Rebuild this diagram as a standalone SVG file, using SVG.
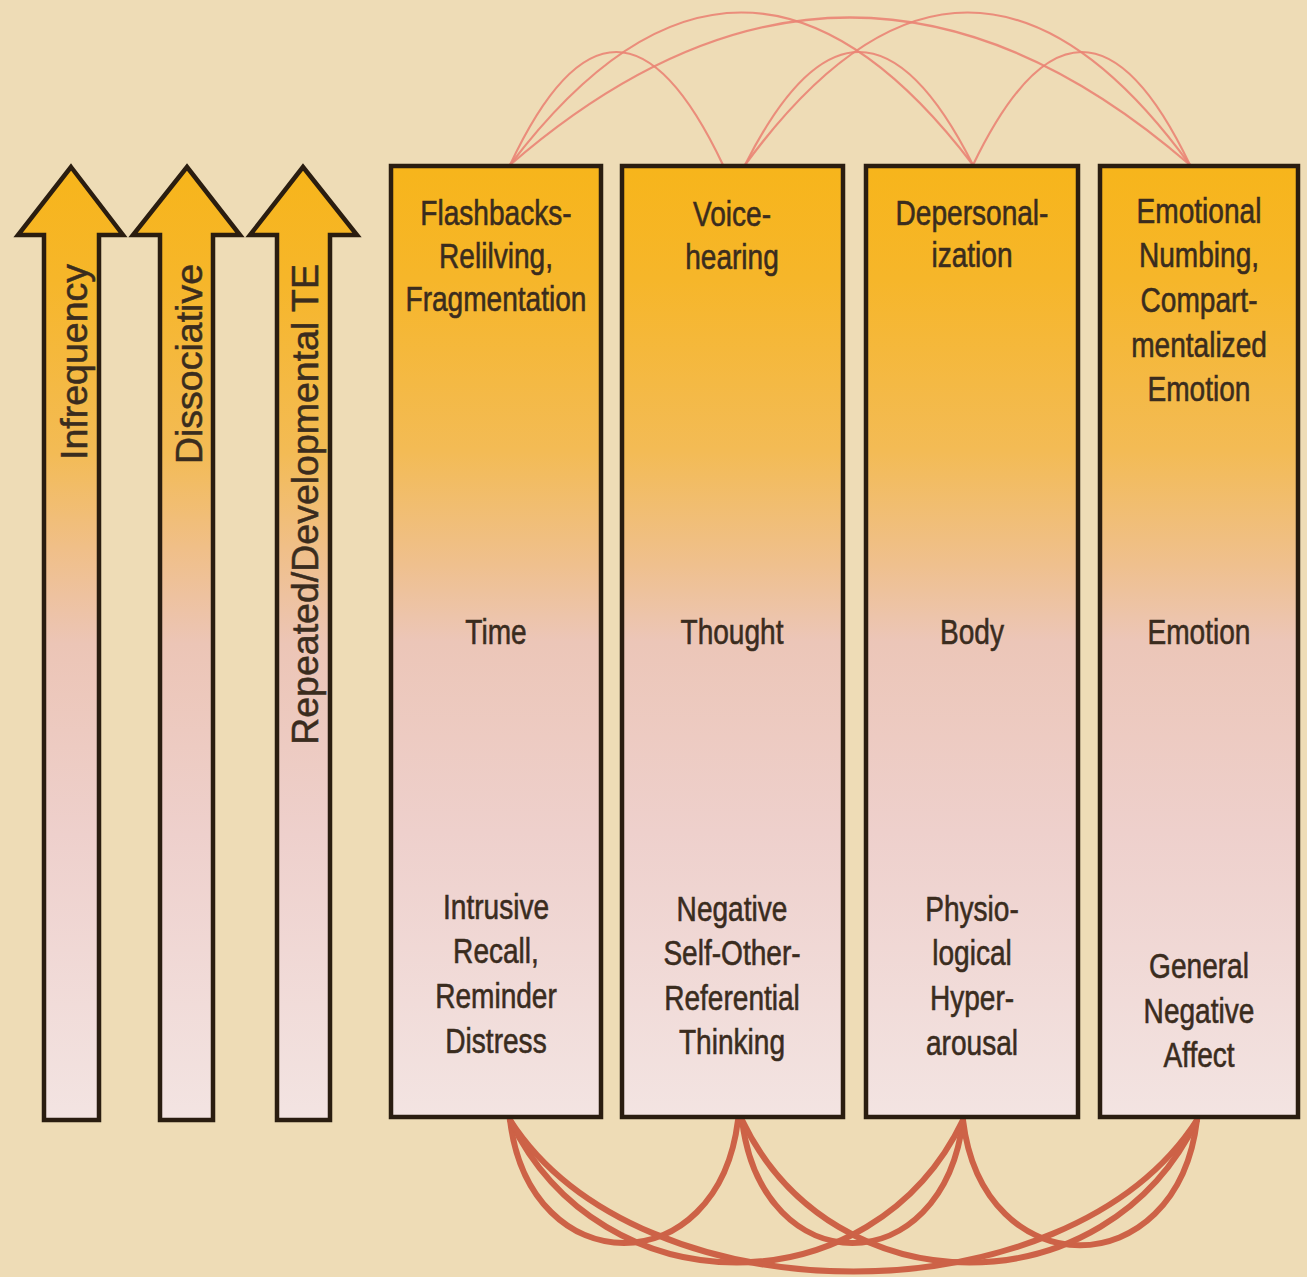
<svg xmlns="http://www.w3.org/2000/svg" width="1307" height="1277" viewBox="0 0 1307 1277">
<defs>
<linearGradient id="gBox" gradientUnits="userSpaceOnUse" x1="0" y1="165" x2="0" y2="1118">
<stop offset="0" stop-color="#f7b51b"/>
<stop offset="0.12" stop-color="#f6b62a"/>
<stop offset="0.3" stop-color="#f3bb55"/>
<stop offset="0.42" stop-color="#efc08e"/>
<stop offset="0.5" stop-color="#ecc6b8"/>
<stop offset="0.7" stop-color="#eed0cc"/>
<stop offset="1" stop-color="#f3e4e2"/>
</linearGradient>
<linearGradient id="gArrow" gradientUnits="userSpaceOnUse" x1="0" y1="167" x2="0" y2="1120">
<stop offset="0" stop-color="#f7b51b"/>
<stop offset="0.12" stop-color="#f6b62a"/>
<stop offset="0.3" stop-color="#f3bb55"/>
<stop offset="0.4" stop-color="#f0bf88"/>
<stop offset="0.5" stop-color="#ecc5b6"/>
<stop offset="0.7" stop-color="#eed0cc"/>
<stop offset="1" stop-color="#f3e4e2"/>
</linearGradient>
</defs>
<style>
.box{fill:url(#gBox);stroke:#2a1d10;stroke-width:4.5}
.arr{fill:url(#gArrow);stroke:#2a1d10;stroke-width:4.5;stroke-linejoin:miter}
.t{font-family:"Liberation Sans",Arial,sans-serif;font-size:36px;fill:#3a2c1e;stroke:#3a2c1e;stroke-width:0.6;text-anchor:middle}
.at{font-family:"Liberation Sans",Arial,sans-serif;font-size:37.5px;fill:#3a2c1e;stroke:#3a2c1e;stroke-width:0.5;text-anchor:end}
.top{fill:none;stroke:#ea8474;stroke-width:2.2;opacity:0.9}
.bot{fill:none;stroke:#cd6247;stroke-width:6;stroke-linecap:round}
</style>
<rect x="0" y="0" width="1307" height="1277" fill="#eedcb6"/>

<g id="connectors">
<path class="top" d="M510,165 Q616,-61 723,165"/>
<path class="top" d="M745,165 Q859,-61 973,165"/>
<path class="top" d="M973,165 Q1082,-61 1190,165"/>
<path class="top" d="M510,165 Q741,-140 973,165"/>
<path class="top" d="M745,165 Q968,-140 1190,165"/>
<path class="top" d="M510,165 Q850,-130 1190,165"/>
<path class="bot" d="M510,1120 C530,1284 718,1284 738,1120"/>
<path class="bot" d="M742,1120 C762,1284 943,1284 963,1120"/>
<path class="bot" d="M963,1120 C983,1287 1177,1287 1197,1120"/>
<path class="bot" d="M510,1120 C601,1310 872,1310 963,1120"/>
<path class="bot" d="M742,1120 C833,1310 1106,1310 1197,1120"/>
<path class="bot" d="M510,1120 C640,1322 1067,1322 1197,1120"/>
</g>

<g id="arrow-infrequency">
<polygon class="arr" points="71,167 123,235 99,235 99,1120 44,1120 44,235 18,235"/>
<text class="at" transform="rotate(-90 87 264)" x="87" y="264">Infrequency</text>
</g>
<g id="arrow-dissociative">
<polygon class="arr" points="187,167 240,235 213,235 213,1120 160,1120 160,235 133,235"/>
<text class="at" transform="rotate(-90 202 264)" x="202" y="264">Dissociative</text>
</g>
<g id="arrow-repeated">
<polygon class="arr" points="303,167 357,235 330,235 330,1120 277,1120 277,235 250,235"/>
<text class="at" transform="rotate(-90 318 264)" x="318" y="264">Repeated/Developmental TE</text>
</g>

<g id="box-time">
<rect class="box" x="391" y="166" width="210" height="951"/>
<g transform="translate(496,0) scale(0.78,1)">
<text class="t" x="0" y="225">Flashbacks-</text>
<text class="t" x="0" y="268">Relilving,</text>
<text class="t" x="0" y="311">Fragmentation</text>
<text class="t" x="0" y="644">Time</text>
<text class="t" x="0" y="919">Intrusive</text>
<text class="t" x="0" y="963">Recall,</text>
<text class="t" x="0" y="1008">Reminder</text>
<text class="t" x="0" y="1053">Distress</text>
</g>
</g>

<g id="box-thought">
<rect class="box" x="622" y="166" width="221" height="951"/>
<g transform="translate(732,0) scale(0.78,1)">
<text class="t" x="0" y="226">Voice-</text>
<text class="t" x="0" y="269">hearing</text>
<text class="t" x="0" y="644">Thought</text>
<text class="t" x="0" y="921">Negative</text>
<text class="t" x="0" y="965">Self-Other-</text>
<text class="t" x="0" y="1010">Referential</text>
<text class="t" x="0" y="1054">Thinking</text>
</g>
</g>

<g id="box-body">
<rect class="box" x="866" y="166" width="212" height="951"/>
<g transform="translate(972,0) scale(0.78,1)">
<text class="t" x="0" y="225">Depersonal-</text>
<text class="t" x="0" y="267">ization</text>
<text class="t" x="0" y="644">Body</text>
<text class="t" x="0" y="921">Physio-</text>
<text class="t" x="0" y="965">logical</text>
<text class="t" x="0" y="1010">Hyper-</text>
<text class="t" x="0" y="1055">arousal</text>
</g>
</g>

<g id="box-emotion">
<rect class="box" x="1100" y="166" width="198" height="951"/>
<g transform="translate(1199,0) scale(0.78,1)">
<text class="t" x="0" y="223">Emotional</text>
<text class="t" x="0" y="267">Numbing,</text>
<text class="t" x="0" y="312">Compart-</text>
<text class="t" x="0" y="357">mentalized</text>
<text class="t" x="0" y="401">Emotion</text>
<text class="t" x="0" y="644">Emotion</text>
<text class="t" x="0" y="978">General</text>
<text class="t" x="0" y="1023">Negative</text>
<text class="t" x="0" y="1067">Affect</text>
</g>
</g>
</svg>
